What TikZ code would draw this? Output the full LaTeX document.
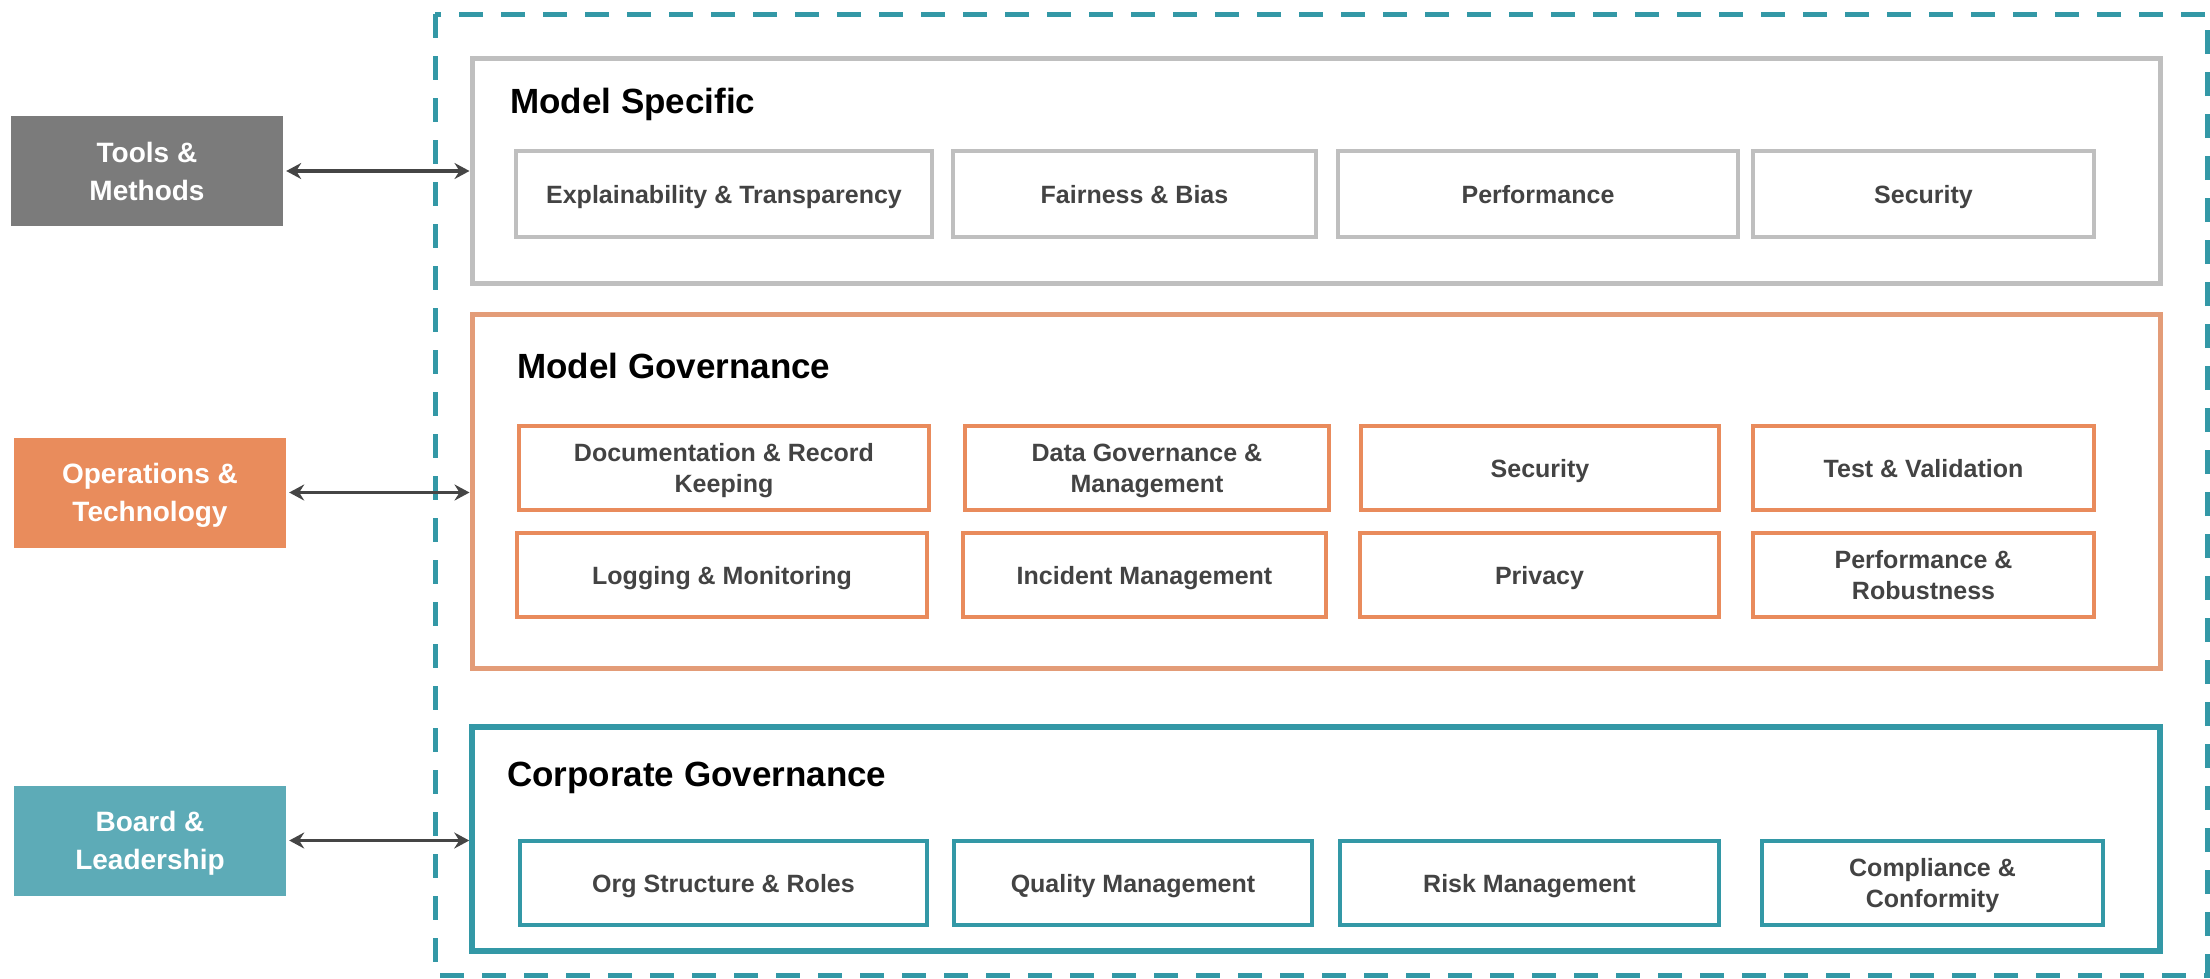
\documentclass[tikz,border=0pt]{standalone}
\usepackage{fontspec}
\setmainfont{Liberation Sans}
\usetikzlibrary{arrows.meta}

\definecolor{toolgray}{HTML}{7B7B7B}
\definecolor{opsorange}{HTML}{E98C5C}
\definecolor{boardteal}{HTML}{5DABB7}
\definecolor{specgray}{HTML}{BFBFBF}
\definecolor{govsalmon}{HTML}{E39C78}
\definecolor{govorange}{HTML}{E98B5C}
\definecolor{corpteal}{HTML}{3398A6}
\definecolor{itemtext}{HTML}{434343}
\definecolor{arrowgray}{HTML}{454545}

\tikzset{
  sidebox/.style={fill=#1, minimum width=272pt, minimum height=110pt, inner sep=0pt,
    text depth=0pt, align=center, text=white, font=\fontsize{28}{38}\selectfont\bfseries},
  layer/.style={draw=#1, line width=5pt, minimum width=1688pt, inner sep=0pt},
  layertitle/.style={anchor=west, inner sep=0pt, text depth=0pt, font=\fontsize{35}{42}\selectfont\bfseries},
  item/.style={draw=#1, line width=4pt, minimum height=84pt, inner sep=0pt, text depth=0pt,
    align=center, text=itemtext, font=\fontsize{25}{31}\selectfont\bfseries},
  link/.style={{Stealth[length=15pt,width=16pt,inset=5pt]}-{Stealth[length=15pt,width=16pt,inset=5pt]},
    line width=3.5pt, draw=arrowgray, shorten <=3pt},
  dashbox/.style={draw=corpteal, line width=5pt, dash pattern=on 24pt off 18pt}
}

\begin{document}
\begin{tikzpicture}[x=1pt, y=-1pt]
  \useasboundingbox (0,0) rectangle (2210,978);

  % outer frame
  \draw[dashbox] (435,14) rectangle (2207,975);

  % three layers
  \node[layer=specgray, minimum height=225pt] (spec) at (1316,170.5) {};
  \node[layer=govsalmon, minimum height=354pt] (gov) at (1316,491) {};
  \node[layer=corpteal, minimum height=224pt, line width=5.5pt] (corp) at (1316,839) {};

  \node[layertitle] (spectitle) at (510,101) {Model Specific};
  \node[layertitle] (govtitle) at (517,366) {Model Governance};
  \node[layertitle] (corptitle) at (507,774) {Corporate Governance};

  % model specific
  \node[item=specgray, minimum width=416pt, minimum height=86pt] (explain) at (724,194) {Explainability \& Transparency};
  \node[item=specgray, minimum width=363pt, minimum height=86pt] (fair) at (1134.5,194) {Fairness \& Bias};
  \node[item=specgray, minimum width=400pt, minimum height=86pt] (perf) at (1538,194) {Performance};
  \node[item=specgray, minimum width=341pt, minimum height=86pt] (specsec) at (1923.5,194) {Security};

  % model governance
  \node[item=govorange, minimum width=410pt] (docs) at (724,468) {Documentation \& Record\\Keeping};
  \node[item=govorange, minimum width=364pt] (datagov) at (1147,468) {Data Governance \&\\Management};
  \node[item=govorange, minimum width=358pt] (govsec) at (1540,468) {Security};
  \node[item=govorange, minimum width=341pt] (test) at (1923.5,468) {Test \& Validation};
  \node[item=govorange, minimum width=410pt] (logging) at (722,575) {Logging \& Monitoring};
  \node[item=govorange, minimum width=363pt] (incident) at (1144.5,575) {Incident Management};
  \node[item=govorange, minimum width=359pt] (privacy) at (1539.5,575) {Privacy};
  \node[item=govorange, minimum width=341pt] (robust) at (1923.5,575) {Performance \&\\Robustness};

  % corporate governance
  \node[item=corpteal, minimum width=407pt] (org) at (723.5,883) {Org Structure \& Roles};
  \node[item=corpteal, minimum width=358pt] (quality) at (1133,883) {Quality Management};
  \node[item=corpteal, minimum width=379pt] (risk) at (1529.5,883) {Risk Management};
  \node[item=corpteal, minimum width=341pt] (comply) at (1932.5,883) {Compliance \&\\Conformity};

  % side boxes
  \node[sidebox=toolgray] (tools) at (147,171) {Tools \&\\Methods};
  \node[sidebox=opsorange] (ops) at (150,492.5) {Operations \&\\Technology};
  \node[sidebox=boardteal] (board) at (150,840.5) {Board \&\\Leadership};

  \draw[link] (tools.east) -- (tools.east -| spec.west);
  \draw[link] (ops.east) -- (ops.east -| gov.west);
  \draw[link] (board.east) -- (board.east -| corp.west);
\end{tikzpicture}
\end{document}
